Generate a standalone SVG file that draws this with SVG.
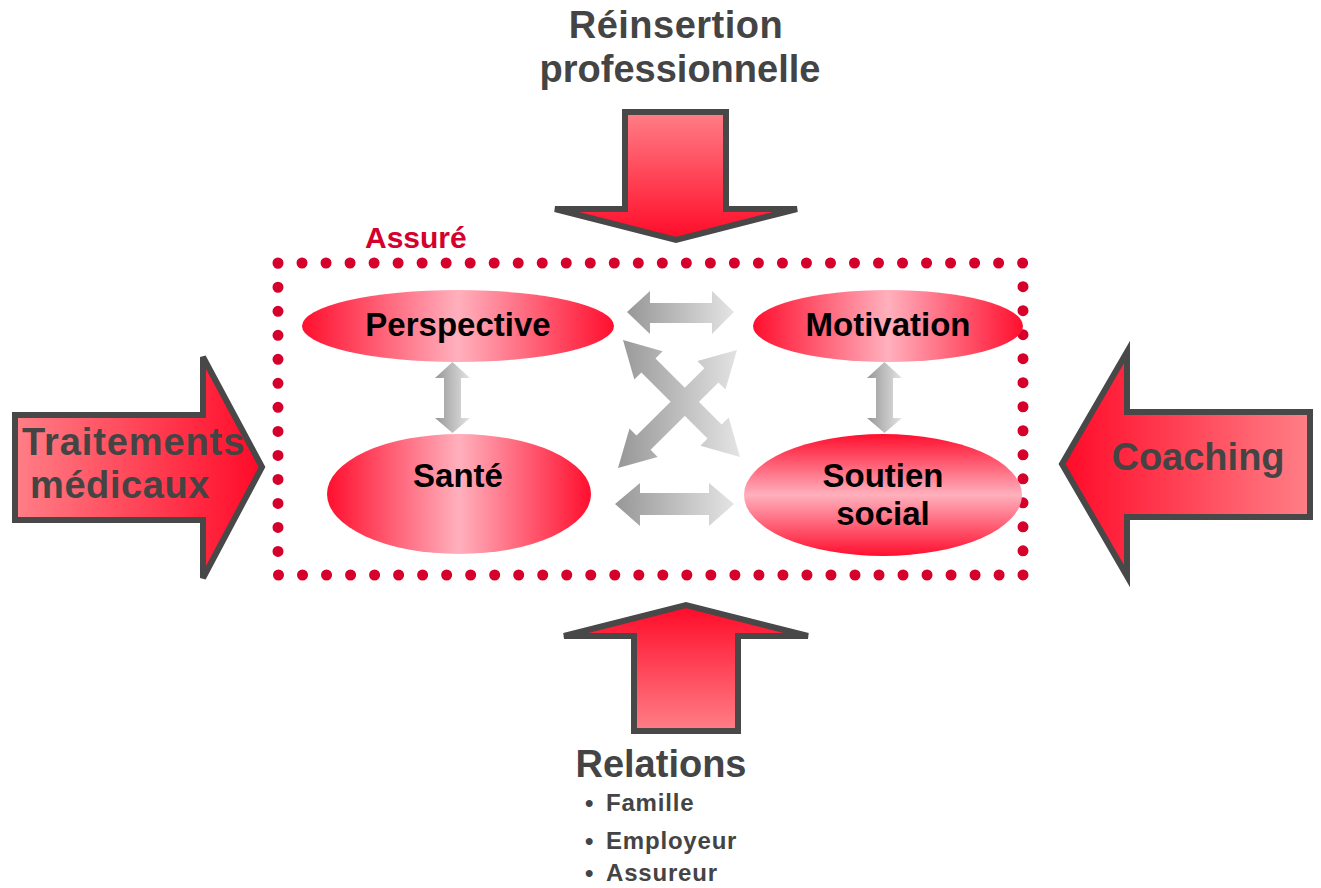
<svg xmlns="http://www.w3.org/2000/svg" width="1321" height="888" viewBox="0 0 1321 888">
<defs>
<linearGradient id="ellH" x1="0" y1="0" x2="1" y2="0">
<stop offset="0" stop-color="#ff0f2e"/><stop offset="0.5" stop-color="#ffb0bd"/><stop offset="1" stop-color="#ff0f2e"/>
</linearGradient>
<linearGradient id="ellV" x1="0" y1="0" x2="0" y2="1">
<stop offset="0" stop-color="#ff0f2e"/><stop offset="0.5" stop-color="#ffb0bd"/><stop offset="1" stop-color="#ff0f2e"/>
</linearGradient>
<linearGradient id="bigDown" x1="0" y1="0" x2="0" y2="1">
<stop offset="0" stop-color="#ff7f87"/><stop offset="1" stop-color="#ff0a28"/>
</linearGradient>
<linearGradient id="bigUp" x1="0" y1="1" x2="0" y2="0">
<stop offset="0" stop-color="#ff7f87"/><stop offset="1" stop-color="#ff0a28"/>
</linearGradient>
<linearGradient id="bigRight" x1="0" y1="0" x2="1" y2="0">
<stop offset="0" stop-color="#ff7f87"/><stop offset="1" stop-color="#ff0a28"/>
</linearGradient>
<linearGradient id="bigLeft" x1="1" y1="0" x2="0" y2="0">
<stop offset="0" stop-color="#ff7f87"/><stop offset="1" stop-color="#ff0a28"/>
</linearGradient>
<linearGradient id="grey" x1="0" y1="0" x2="1" y2="0">
<stop offset="0" stop-color="#979797"/><stop offset="1" stop-color="#e4e4e4"/>
</linearGradient>
<linearGradient id="greyDiag" gradientUnits="userSpaceOnUse" x1="618" y1="0" x2="740" y2="0">
<stop offset="0" stop-color="#979797"/><stop offset="1" stop-color="#e4e4e4"/>
</linearGradient>
</defs>
<style>
.big{stroke:#484848;stroke-width:6;stroke-linejoin:miter}
.lbl{font-family:"Liberation Sans",Arial,sans-serif;font-weight:bold;fill:#444444}
.node{font-family:"Liberation Sans",Arial,sans-serif;font-weight:bold;font-size:33px;fill:#000000;text-anchor:middle}
.sub{font-family:"Liberation Sans",Arial,sans-serif;font-weight:bold;font-size:24px;fill:#444444;letter-spacing:0.8px}
</style>
<rect width="1321" height="888" fill="#ffffff"/>

<g id="container">
<rect x="278" y="263" width="745" height="312" fill="none" stroke="#d5002b" stroke-width="11" stroke-linecap="round" stroke-dasharray="0 24.02"/>
<text x="365" y="248" font-family="Liberation Sans, Arial, sans-serif" font-weight="bold" font-size="30" fill="#d5002b">Assuré</text>
</g>

<g id="reinsertion">
<polygon class="big" fill="url(#bigDown)" points="625,112 726,112 726,209 797,209 676,240 555,209 625,209"/>
<text class="lbl" font-size="38" text-anchor="middle" x="676" y="38" letter-spacing="0.5">Réinsertion</text>
<text class="lbl" font-size="38" text-anchor="middle" x="680" y="82">professionnelle</text>
</g>

<g id="relations">
<polygon class="big" fill="url(#bigUp)" points="634,731 738,731 738,636 808,636 686,605 564,636 634,636"/>
<text class="lbl" font-size="38" text-anchor="middle" x="661" y="777">Relations</text>
<text class="sub" x="585" y="811">•</text>
<text class="sub" x="606" y="811">Famille</text>
<text class="sub" x="585" y="849">•</text>
<text class="sub" x="606" y="849">Employeur</text>
<text class="sub" x="585" y="881">•</text>
<text class="sub" x="606" y="881">Assureur</text>
</g>

<g id="traitements">
<polygon class="big" fill="url(#bigRight)" points="15,415 203,415 203,357 262,467 203,578 203,520 15,520"/>
<text class="lbl" font-size="38" x="22" y="455" letter-spacing="0.9">Traitements</text>
<text class="lbl" font-size="38" x="30" y="498" letter-spacing="0.6">médicaux</text>
</g>

<g id="coaching">
<polygon class="big" fill="url(#bigLeft)" points="1310,412 1127,412 1127,352 1062,464 1127,576 1127,517 1310,517"/>
<text class="lbl" font-size="38" text-anchor="middle" x="1198" y="470">Coaching</text>
</g>

<g id="perspective">
<ellipse cx="458" cy="326" rx="156" ry="36" fill="url(#ellH)"/>
<text class="node" x="458" y="336">Perspective</text>
</g>

<g id="motivation">
<ellipse cx="888" cy="326" rx="135" ry="36" fill="url(#ellH)"/>
<text class="node" x="888" y="336">Motivation</text>
</g>

<g id="sante">
<ellipse cx="459" cy="494" rx="132" ry="60" fill="url(#ellH)"/>
<text class="node" x="458" y="487">Santé</text>
</g>

<g id="soutien">
<ellipse cx="883" cy="495" rx="139" ry="61" fill="url(#ellV)"/>
<text class="node" x="883" y="487">Soutien</text>
<text class="node" x="883" y="525">social</text>
</g>

<g id="connectors">
<polygon fill="url(#grey)" points="452.5,362 470,378 461,378 461,418 470,418 452.5,433 435,418 444,418 444,378 435,378"/>
<polygon fill="url(#grey)" points="884.5,362 902,378 893,378 893,418 902,418 884.5,433 867,418 876,418 876,378 867,378"/>
<polygon fill="url(#grey)" points="627,312 650,291 650,303 712,303 712,291 734,312 712,334 712,323 650,323 650,334"/>
<polygon fill="url(#grey)" points="615,504 640,483 640,493 709,493 709,483 734,504 709,526 709,515 640,515 640,526"/>
<polygon fill="url(#greyDiag)" points="623,340 662.6,351.3 655.5,358.4 721.6,424.5 728.7,417.4 740,457 700.4,445.7 707.5,438.6 641.4,372.5 634.3,379.6"/>
<polygon fill="url(#greyDiag)" points="618,468 629.5,428.5 636.5,435.6 704.4,368.2 697.4,361.1 737,350 725.5,389.5 718.5,382.4 650.6,449.8 657.6,456.9"/>
</g>
</svg>
